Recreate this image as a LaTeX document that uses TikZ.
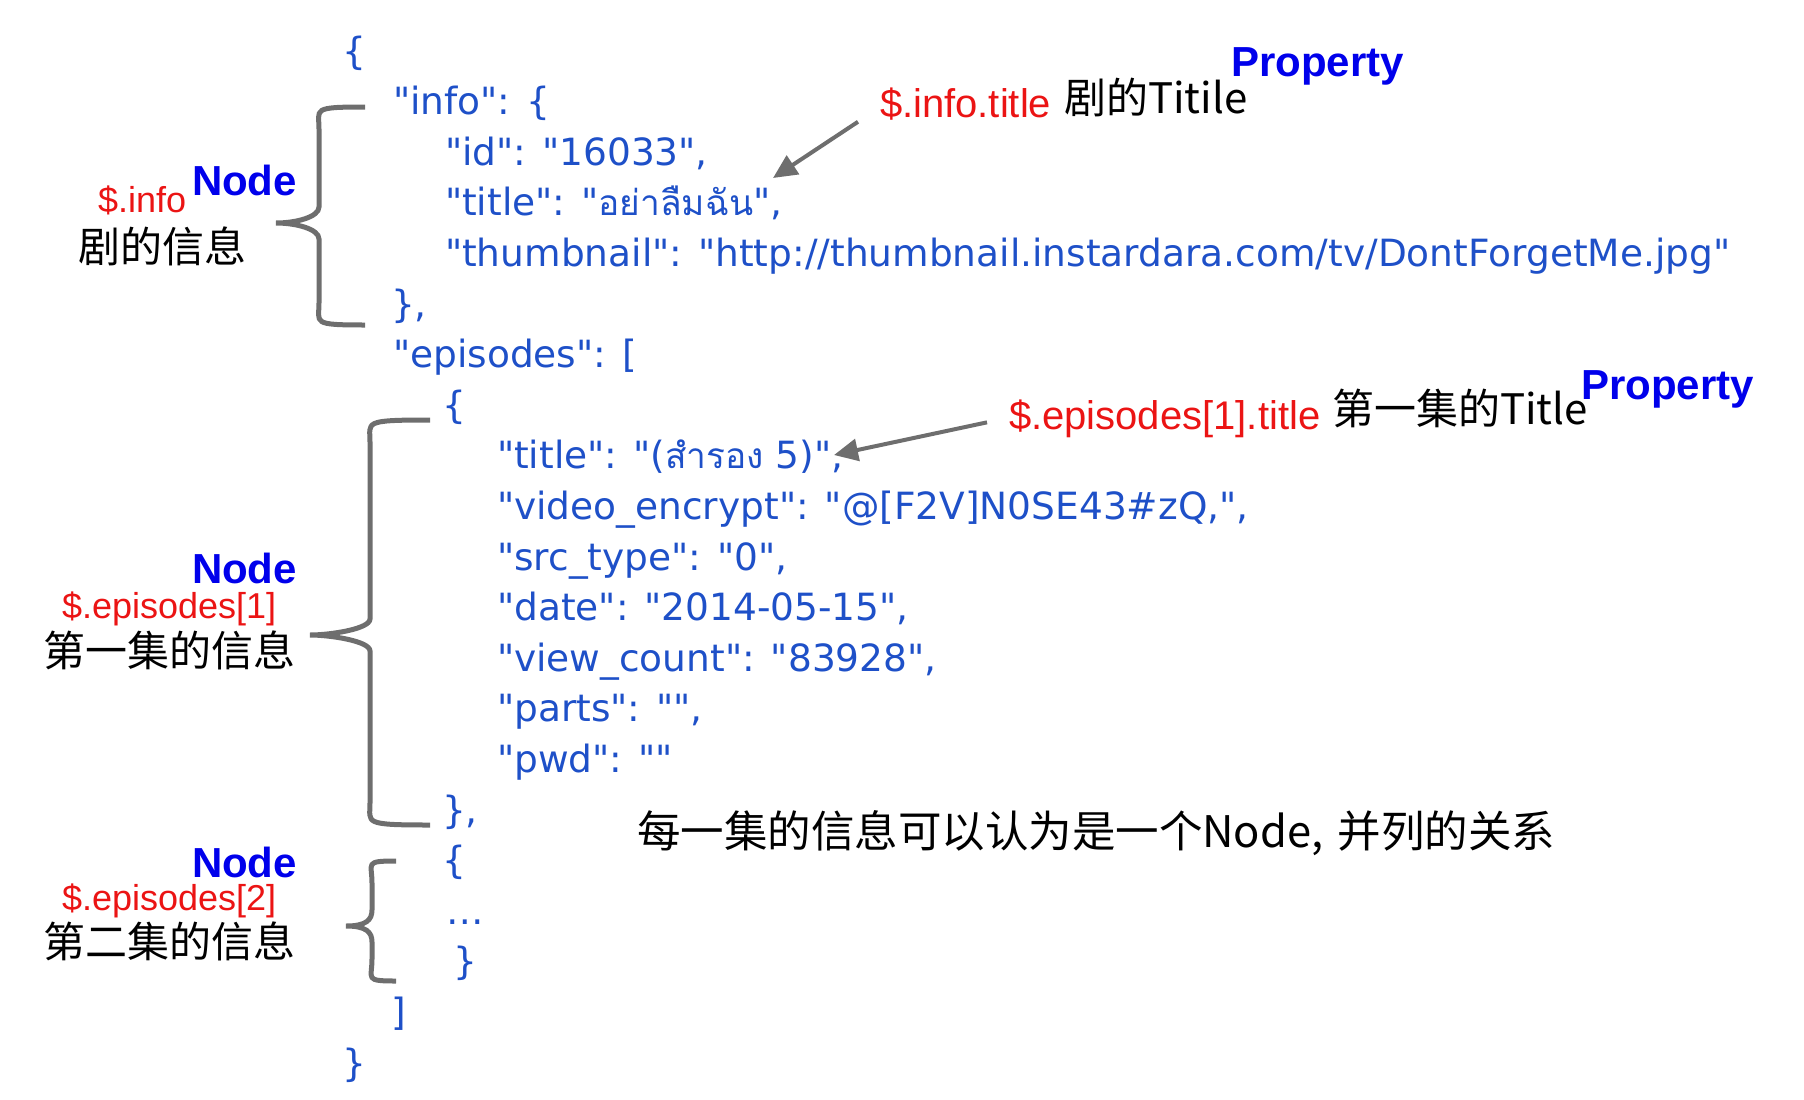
\documentclass[tikz,border=0pt]{standalone}
\usepackage{fontspec}
\setmainfont{Liberation Sans}
\newfontfamily\jsonfont{DejaVu Sans}
\newfontfamily\thaifont[Script=Thai,Scale=0.94]{Loma}
\newfontfamily\cjk{Noto Sans CJK SC}
\usetikzlibrary{arrows.meta}
\definecolor{jsonblue}{RGB}{30,80,200}
\definecolor{tagblue}{RGB}{0,0,235}
\definecolor{pathred}{RGB}{235,20,20}
\definecolor{bracegray}{RGB}{110,110,110}
\newcommand{\thai}[1]{{\thaifont #1}}
% brace: end x, spine x, tip x, top y, tip y, bottom y
\newcommand{\nodebrace}[6]{%
  \draw[brace] (#1,#4) .. controls (#2-8,#4) and (#2,#4+2) .. (#2,#4+22)
    -- (#2,#5-16) .. controls (#2,#5-6) and (#3+20,#5) .. (#3,#5)
    .. controls (#3+20,#5) and (#2,#5+6) .. (#2,#5+16)
    -- (#2,#6-22) .. controls (#2,#6-2) and (#2-8,#6) .. (#1,#6);}

\begin{document}
\begin{tikzpicture}[x=1pt,y=-1pt]
\tikzstyle{every node}=[inner sep=0pt,outer sep=0pt,anchor=base west]
\tikzstyle{json}=[text=jsonblue,font=\jsonfont\fontsize{37.5}{40}\selectfont]
\tikzstyle{jpath}=[text=pathred,font=\fontsize{36}{40}\selectfont]
\tikzstyle{notepath}=[text=pathred,font=\fontsize{40}{44}\selectfont]
\tikzstyle{tag}=[text=tagblue,font=\bfseries\fontsize{42}{46}\selectfont]
\tikzstyle{note}=[font=\cjk\fontsize{42}{46}\selectfont]
\tikzstyle{brace}=[draw=bracegray,line width=5pt]
\tikzstyle{pointer}=[draw=bracegray,line width=4pt,-{Triangle[length=24pt,width=22pt]}]
\useasboundingbox (0,0) rectangle (1804,1100);

% json text
\node[json] (l0) at (342,64) {\{};
\node[json] (l1) at (393,114.6) {"info": \{};
\node[json] (l2) at (445,165.2) {"id": "16033",};
\node[json] (l3) at (445,215.8) {"title": "\thai{อย่าลืมฉัน}",};
\node[json] (l4) at (445,266.4) {"thumbnail": "http://thumbnail.instardara.com/tv/DontForgetMe.jpg"};
\node[json] (l5) at (391,317) {\},};
\node[json] (l6) at (393,367.6) {"episodes": [};
\node[json] (l7) at (442,418.2) {\{};
\node[json] (l8) at (497,468.8) {"title": "(\thai{สำรอง} 5)",};
\node[json] (l9) at (497,519.4) {"video\_encrypt": "@[F2V]N0SE43\#zQ,",};
\node[json] (l10) at (497,570) {"src\_type": "0",};
\node[json] (l11) at (497,620.6) {"date": "2014-05-15",};
\node[json] (l12) at (497,671.2) {"view\_count": "83928",};
\node[json] (l13) at (497,721.8) {"parts": "",};
\node[json] (l14) at (497,772.4) {"pwd": ""};
\node[json] (l15) at (442,823) {\},};
\node[json] (l16) at (442,873.6) {\{};
\node[json] (l17) at (446,924.2) {…};
\node[json] (l18) at (453,974.8) {\}};
\node[json] (l19) at (391,1025.4) {]};
\node[json] (l20) at (342,1076) {\}};

% left labels
\node[jpath] (p1) at (98,212) {\$.info};
\node[tag] (n1) at (192,195) {Node};
\node[note] (c1) at (78,262) {剧的信息};
\node[tag] (n2) at (192,583) {Node};
\node[jpath] (p2) at (62,618) {\$.episodes[1]};
\node[note] (c2) at (43,666) {第一集的信息};
\node[tag] (n3) at (192,877) {Node};
\node[jpath] (p3) at (62,910) {\$.episodes[2]};
\node[note] (c3) at (43,957) {第二集的信息};

\nodebrace{365}{319}{276}{107}{223}{325}
\nodebrace{430}{370}{310}{420}{635}{825}
\nodebrace{396}{372}{346}{861}{926}{981}

% property notes
\node[tag] (pr1) at (1231,76) {Property};
\node[notepath] (q1) at (880,117) {\$.info.title};
\node[note] (t1) at (1064,113) {剧的Titile};
\node[tag] (pr2) at (1581,399) {Property};
\node[notepath] (q2) at (1009,429) {\$.episodes[1].title};
\node[note] (t2) at (1332,424) {第一集的Title};
\coordinate (a1) at (773,178);
\coordinate (a2) at (834,455);
\draw[pointer] (q1.south west) ++(-22,2) coordinate (s1) (s1) -- (a1);
\draw[pointer] (q2.west) ++(-22,4) coordinate (s2) (s2) -- (a2);

\node[note,font=\cjk\fontsize{43.5}{46}\selectfont] (sum) at (637,847) {每一集的信息可以认为是一个Node,\,\,并列的关系};
\end{tikzpicture}
\end{document}
